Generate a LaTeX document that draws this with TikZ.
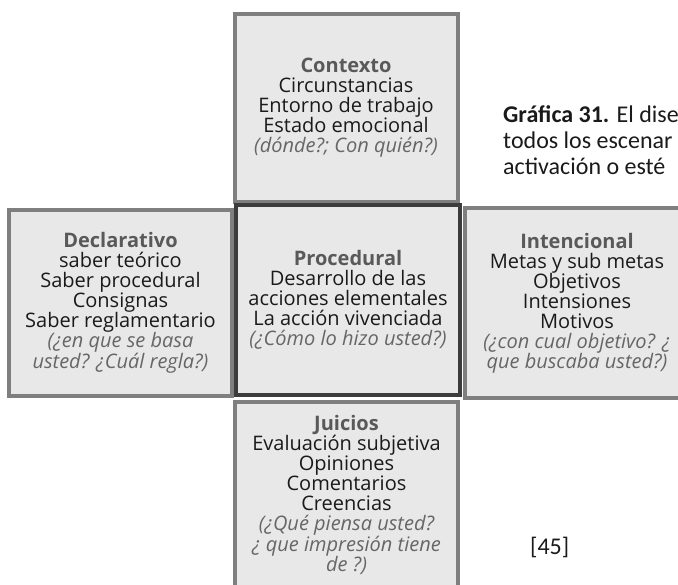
\documentclass[tikz,border=0pt]{standalone}
\usepackage{fontspec}
\setmainfont{Open Sans}
\newfontfamily\capfont{Carlito}
\usepackage{tikz}
\usetikzlibrary{positioning}

\definecolor{boxfill}{HTML}{E8E8E8}
\definecolor{boxline}{HTML}{7F7F7F}
\definecolor{coreline}{HTML}{3C3C3C}
\definecolor{headgray}{HTML}{595959}
\definecolor{askgray}{HTML}{666666}
\definecolor{inkblack}{HTML}{1A1A1A}

\newcommand{\hd}[1]{{\bfseries\color{headgray}#1}}
\newcommand{\qs}[1]{{\itshape\color{askgray}#1}}

\tikzset{plane box/.style={
	draw=boxline,
	fill=boxfill,
	line width=4pt,
	align=center,
	inner sep=0pt,
	text=inkblack,
	font=\fontsize{20}{20}\selectfont,
	minimum width=223pt,
	minimum height=188pt,
}}
\tikzset{core box/.style={
	plane box,
	draw=coreline,
	minimum width=224pt,
	minimum height=190pt,
}}
\tikzset{caption text/.style={
	anchor=base west,
	inner sep=0pt,
	text=inkblack,
	font=\capfont\fontsize{24}{24}\selectfont,
}}

\begin{document}
\begin{tikzpicture}[x=1pt,y=-1pt]
\useasboundingbox (0,0) rectangle (678,585);
\clip (0,0) rectangle (678,585);

\node[plane box] (ctx) at (346,108) {\hd{Contexto}\\Circunstancias\\Entorno de trabajo\\Estado emocional\\\qs{(dónde?; Con quién?)}};

\node[plane box, minimum height=186pt] (decl) at (120.5,303) {\hd{Declarativo}\\saber teórico\\Saber procedural\\Consignas\\Saber reglamentario\\\qs{(¿en que se basa}\\\qs{usted? ¿Cuál regla?)}};

\node[plane box, minimum width=224pt, minimum height=190pt] (inten) at (577,303) {\hd{Intencional}\\Metas y sub metas\\Objetivos\\Intensiones\\Motivos\\\qs{(¿con cual objetivo? ¿}\\\qs{que buscaba usted?)}};

\node[plane box, minimum height=186pt] (juic) at (346.5,495) {\hd{Juicios}\\Evaluación subjetiva\\Opiniones\\Comentarios\\Creencias\\\qs{(¿Qué piensa usted?}\\\qs{¿ que impresión tiene}\\\qs{de ?)}};

\node[core box] (proc) at (348,300) {\hd{Procedural}\\Desarrollo de las\\acciones elementales\\La acción vivenciada\\\qs{(¿Cómo lo hizo usted?)}};

% caption beside the top box
\node[caption text] (cap1) at (503,123) {\textbf{Gráfica 31.} El dise};
\node[caption text] (cap2) at (503,149) {todos los escenar};
\node[caption text] (cap3) at (503,175) {activación o esté};

\node[caption text] (ref) at (530,554) {[45]};

\end{tikzpicture}
\end{document}
